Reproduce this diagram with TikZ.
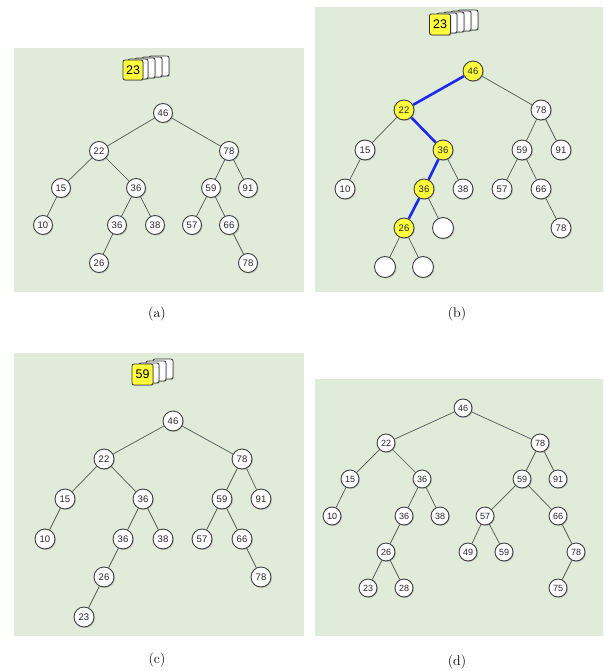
\documentclass[tikz,border=0pt]{standalone}
\usepackage{fontspec}
\newfontfamily\nodefont{Liberation Sans}
\usetikzlibrary{shadows}
\pgfdeclarelayer{bglayer}
\pgfdeclarelayer{edgelayer}
\pgfsetlayers{bglayer,edgelayer,main}
\definecolor{panelbg}{RGB}{224,235,218}
\definecolor{hlyellow}{RGB}{255,255,60}
\definecolor{hlblue}{RGB}{30,40,240}
\definecolor{edgegray}{RGB}{85,85,85}
\begin{document}
\begin{tikzpicture}[x=1pt,y=-1pt,
  panel/.style={fill=panelbg,draw=none},
  nd/.style={circle,draw=black!75,line width=0.9pt,fill=white,minimum size=19pt,inner sep=0pt,
    font=\nodefont\fontsize{9.5}{10}\selectfont,text=black!85,
    drop shadow={shadow xshift=1pt,shadow yshift=-1pt,opacity=0.35}},
  ndd/.style={nd,minimum size=18pt,font=\nodefont\fontsize{9}{10}\selectfont},
  hl/.style={fill=hlyellow},
  card/.style={rectangle,rounded corners=2pt,draw=black!80,line width=0.8pt,fill=white,
    minimum size=20pt,inner sep=0pt,font=\nodefont\fontsize{12.5}{13}\selectfont,
    drop shadow={shadow xshift=1pt,shadow yshift=-1pt,opacity=0.35}},
  frontcard/.style={card,fill=hlyellow},
  ed/.style={draw=edgegray,line width=0.7pt},
  hled/.style={draw=hlblue,line width=2.6pt},
  captext/.style={font=\fontsize{14}{16}\selectfont}
]
\useasboundingbox (0,0) rectangle (603,671);
\begin{pgfonlayer}{bglayer}
\fill[white] (0,0) rectangle (603,671);
\path[panel] (14,48) rectangle (304,292);
\path[panel] (315,7) rectangle (603,292);
\path[panel] (14,353) rectangle (304,636);
\path[panel] (315,379) rectangle (603,636);
\end{pgfonlayer}

% ---------- captions
\node[captext] (capa) at (157,314) {(a)};
\node[captext] (capb) at (457,314) {(b)};
\node[captext] (capc) at (157,660) {(c)};
\node[captext] (capd) at (457,662) {(d)};

% ================= panel (a)
\node[card] (ak4) at (159,66) {};
\node[card] (ak3) at (152,67) {};
\node[card] (ak2) at (145,68) {};
\node[card] (ak1) at (138,69) {};
\node[frontcard] (ak0) at (133,70) {23};

\node[nd] (a46) at (163,113) {46};
\node[nd] (a22) at (99,151) {22};
\node[nd] (a78) at (229,151) {78};
\node[nd] (a15) at (61,188) {15};
\node[nd] (a36) at (136,188) {36};
\node[nd] (a59) at (211,188) {59};
\node[nd] (a91) at (248,188) {91};
\node[nd] (a10) at (43,225) {10};
\node[nd] (a36b) at (117,225) {36};
\node[nd] (a38) at (155,225) {38};
\node[nd] (a57) at (192,225) {57};
\node[nd] (a66) at (229,225) {66};
\node[nd] (a26) at (99,263) {26};
\node[nd] (a78b) at (248,263) {78};
\begin{pgfonlayer}{edgelayer}
\path[ed] (a46) -- (a22) (a46) -- (a78) (a22) -- (a15) (a22) -- (a36)
  (a15) -- (a10) (a36) -- (a36b) (a36) -- (a38) (a36b) -- (a26)
  (a78) -- (a59) (a78) -- (a91) (a59) -- (a57) (a59) -- (a66) (a66) -- (a78b);
\end{pgfonlayer}

% ================= panel (b)
\node[card] (bk4) at (468,20) {};
\node[card] (bk3) at (461,21) {};
\node[card] (bk2) at (454,22) {};
\node[card] (bk1) at (447,23) {};
\node[frontcard,minimum size=21pt] (bk0) at (440,24.5) {23};

\node[nd,hl,minimum size=20pt] (b46) at (473,71) {46};
\node[nd,hl,minimum size=20pt] (b22) at (404,110) {22};
\node[nd,minimum size=20pt] (b78) at (541,110) {78};
\node[nd,minimum size=20pt] (b15) at (365,150) {15};
\node[nd,hl,minimum size=20pt] (b36) at (443,150) {36};
\node[nd,minimum size=20pt] (b59) at (522,150) {59};
\node[nd,minimum size=20pt] (b91) at (561,150) {91};
\node[nd,minimum size=20pt] (b10) at (345,189) {10};
\node[nd,hl,minimum size=20pt] (b36b) at (424,189) {36};
\node[nd,minimum size=20pt] (b38) at (463,189) {38};
\node[nd,minimum size=20pt] (b57) at (502,189) {57};
\node[nd,minimum size=20pt] (b66) at (541,189) {66};
\node[nd,hl,minimum size=20pt] (b26) at (404,228) {26};
\node[nd,minimum size=21pt] (be1) at (443,228) {};
\node[nd,minimum size=20pt] (b78b) at (561,228) {78};
\node[nd,minimum size=21pt] (be2) at (385,267) {};
\node[nd,minimum size=21pt] (be3) at (423,267) {};
\begin{pgfonlayer}{edgelayer}
\path[ed] (b46) -- (b78) (b22) -- (b15) (b15) -- (b10) (b36) -- (b38)
  (b36b) -- (be1) (b26) -- (be2) (b26) -- (be3)
  (b78) -- (b59) (b78) -- (b91) (b59) -- (b57) (b59) -- (b66) (b66) -- (b78b);
\path[hled] (b46) -- (b22) (b22) -- (b36) (b36) -- (b36b) (b36b) -- (b26);
\end{pgfonlayer}

% ================= panel (c)
\node[card] (ck3) at (163,369) {};
\node[card] (ck2) at (156,371) {};
\node[card] (ck1) at (149,373) {};
\node[frontcard,minimum size=21pt] (ck0) at (142.5,374.5) {59};

\node[nd,minimum size=20pt] (c46) at (173,421) {46};
\node[nd,minimum size=20pt] (c22) at (104,459) {22};
\node[nd,minimum size=20pt] (c78) at (242,459) {78};
\node[nd,minimum size=20pt] (c15) at (65,499) {15};
\node[nd,minimum size=20pt] (c36) at (143,499) {36};
\node[nd,minimum size=20pt] (c59) at (222,499) {59};
\node[nd,minimum size=20pt] (c91) at (261,499) {91};
\node[nd,minimum size=20pt] (c10) at (45,539) {10};
\node[nd,minimum size=20pt] (c36b) at (123,539) {36};
\node[nd,minimum size=20pt] (c38) at (163,539) {38};
\node[nd,minimum size=20pt] (c57) at (202,539) {57};
\node[nd,minimum size=20pt] (c66) at (242,539) {66};
\node[nd,minimum size=20pt] (c26) at (104,577) {26};
\node[nd,minimum size=20pt] (c78b) at (261,577) {78};
\node[nd,minimum size=20pt] (c23) at (84,617) {23};
\begin{pgfonlayer}{edgelayer}
\path[ed] (c46) -- (c22) (c46) -- (c78) (c22) -- (c15) (c22) -- (c36)
  (c15) -- (c10) (c36) -- (c36b) (c36) -- (c38) (c36b) -- (c26) (c26) -- (c23)
  (c78) -- (c59) (c78) -- (c91) (c59) -- (c57) (c59) -- (c66) (c66) -- (c78b);
\end{pgfonlayer}

% ================= panel (d)
\node[ndd] (d46) at (463,408) {46};
\node[ndd] (d22) at (386,443) {22};
\node[ndd] (d78) at (540,443) {78};
\node[ndd] (d15) at (350,479) {15};
\node[ndd] (d36) at (422,479) {36};
\node[ndd] (d59) at (522,479) {59};
\node[ndd] (d91) at (558,479) {91};
\node[ndd] (d10) at (332,516) {10};
\node[ndd] (d36b) at (404,516) {36};
\node[ndd] (d38) at (440,516) {38};
\node[ndd] (d57) at (485,516) {57};
\node[ndd] (d66) at (558,516) {66};
\node[ndd] (d26) at (386,552) {26};
\node[ndd] (d49) at (468,552) {49};
\node[ndd] (d59b) at (504,552) {59};
\node[ndd] (d78b) at (576,552) {78};
\node[ndd] (d23) at (368,588) {23};
\node[ndd] (d28) at (404,588) {28};
\node[ndd] (d75) at (558,588) {75};
\begin{pgfonlayer}{edgelayer}
\path[ed] (d46) -- (d22) (d46) -- (d78) (d22) -- (d15) (d22) -- (d36)
  (d15) -- (d10) (d36) -- (d36b) (d36) -- (d38) (d36b) -- (d26)
  (d26) -- (d23) (d26) -- (d28)
  (d78) -- (d59) (d78) -- (d91) (d59) -- (d57) (d59) -- (d66)
  (d57) -- (d49) (d57) -- (d59b) (d66) -- (d78b) (d78b) -- (d75);
\end{pgfonlayer}
\end{tikzpicture}
\end{document}
